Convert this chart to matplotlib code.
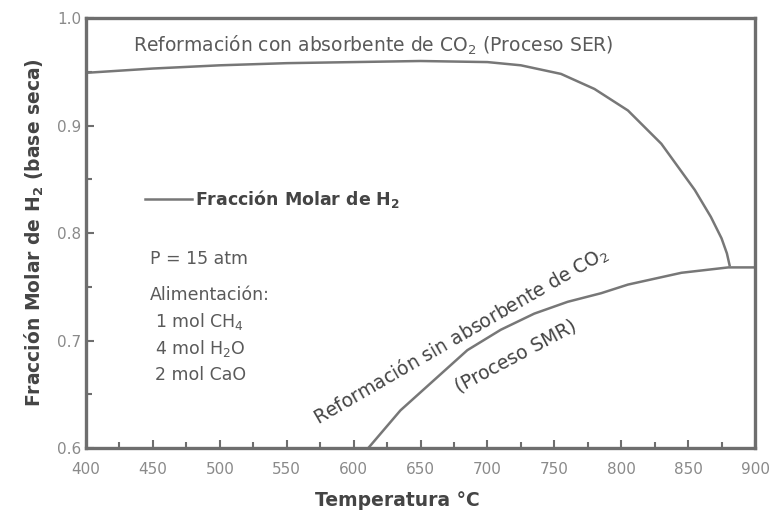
import numpy as np
import matplotlib
matplotlib.use("Agg")
import matplotlib.pyplot as plt
from matplotlib.ticker import MultipleLocator

plt.rcParams['font.family'] = ['DejaVu Sans']

# Reformación con absorbente de CO2 (Proceso SER)
temp_ser = [400, 450, 500, 550, 600, 650, 700, 725, 755, 780, 805, 830, 855, 867, 875, 879, 881]
h2_ser = [0.949, 0.953, 0.956, 0.958, 0.959, 0.960, 0.959, 0.956, 0.948, 0.934,
          0.914, 0.883, 0.840, 0.815, 0.795, 0.781, 0.770]

# Reformación sin absorbente de CO2 (Proceso SMR)
temp_smr = [611, 635, 660, 685, 710, 735, 760, 785, 805, 845, 880, 900]
h2_smr = [0.600, 0.635, 0.663, 0.691, 0.710, 0.725, 0.736, 0.744, 0.752, 0.763,
          0.768, 0.768]

xticks = [400, 450, 500, 550, 600, 650, 700, 750, 800, 850, 900]
yticks = [0.6, 0.7, 0.8, 0.9, 1.0]
ylabels = ['0.6', '0.7', '0.8', '0.9', '1.0']

gris = '#6e6e6e'
texto = '#5a5a5a'
linea = '#777777'

fig = plt.figure(figsize=(7.77, 5.19), dpi=100)
ax = fig.add_axes([0.1107, 0.1368, 0.861, 0.8285])

ax.plot(temp_ser, h2_ser, color=linea, lw=1.8)
ax.plot(temp_smr, h2_smr, color=linea, lw=1.8)

ax.set_xlim(400, 900)
ax.set_ylim(0.6, 1.0)
ax.set_xticks(xticks)
ax.set_yticks(yticks)
ax.set_yticklabels(ylabels)
ax.xaxis.set_minor_locator(MultipleLocator(25))
ax.yaxis.set_minor_locator(MultipleLocator(0.05))
ax.tick_params(which='both', direction='in', color=gris, labelcolor='#8a8a8a',
               labelsize=11, top=False, right=False)
ax.tick_params(axis='x', pad=10)
ax.tick_params(which='major', length=6, width=1.5)
ax.tick_params(which='minor', length=4, width=1.5)
for s in ax.spines.values():
    s.set_color(gris)
    s.set_linewidth(2.4)

ax.set_xlabel('Temperatura °C', fontsize=13.5, fontweight='bold', color='#444444')
ax.xaxis.set_label_coords(0.465, -0.10)
ax.set_ylabel('Fracción Molar de H$_\\mathbf{2}$ (base seca)', fontsize=13.5,
              fontweight='bold', color='#444444', labelpad=8)

ax.text(435, 0.975, 'Reformación con absorbente de CO$_2$ (Proceso SER)',
        fontsize=13.5, color=texto, va='center')

ax.plot([444, 479], [0.832, 0.832], color=linea, lw=1.8)
ax.text(481.5, 0.832, 'Fracción Molar de H$_\\mathbf{2}$', fontsize=12.5,
        fontweight='bold', color='#444444', va='center')

ax.text(448, 0.776, 'P = 15 atm', fontsize=12.5, color=texto, va='center')
ax.text(448, 0.742, 'Alimentación:', fontsize=12.5, color=texto, va='center')
ax.text(451.5, 0.718, '1 mol CH$_4$', fontsize=12.5, color=texto, va='center')
ax.text(451.5, 0.693, '4 mol H$_2$O', fontsize=12.5, color=texto, va='center')
ax.text(451.5, 0.668, '2 mol CaO', fontsize=12.5, color=texto, va='center')

ax.text(571, 0.626, 'Reformación sin absorbente de CO$_2$', fontsize=13.5,
        color='#444444', rotation=30, rotation_mode='anchor', ha='left', va='center')
ax.text(677, 0.656, '(Proceso SMR)', fontsize=13.5, color='#444444',
        rotation=28, rotation_mode='anchor', ha='left', va='center')

fig.savefig('out.png', dpi=100)
